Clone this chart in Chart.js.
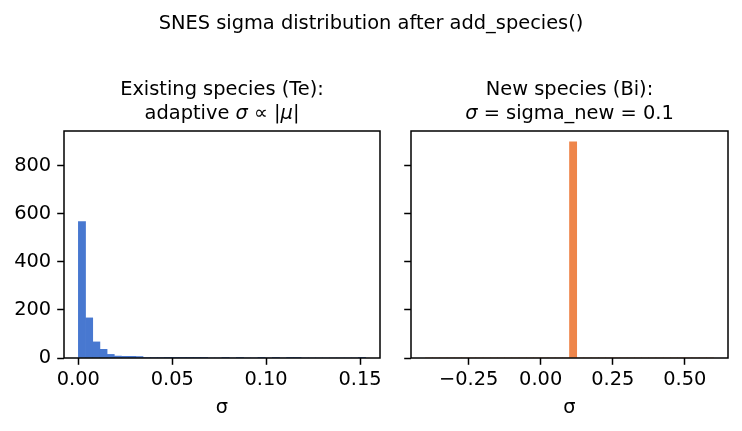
<!DOCTYPE html>
<html>
<head>
<meta charset="utf-8">
<script src="https://cdn.jsdelivr.net/npm/chart.js@4.4.0/dist/chart.umd.min.js"></script>
<style>
  body { margin: 0; background: #fff; }
  #wrap { position: relative; width: 742px; height: 431px; font-family: 'DejaVu Sans', sans-serif; color: #000; }
  canvas { position: absolute; top: 0; }
  .txt { position: absolute; font-size: 19.4px; line-height: 24px; text-align: center; white-space: nowrap; }
  .txt i { font-style: italic; }
</style>
</head>
<body>
<div id="wrap">
  <canvas id="leftChart" width="395" height="431" style="left:0;width:395px;height:431px"></canvas>
  <canvas id="rightChart" width="347" height="431" style="left:395px;width:347px;height:431px"></canvas>
  <div class="txt" style="left:0;width:742px;top:11px">SNES sigma distribution after add_species()</div>
  <div class="txt" style="left:64px;width:316px;top:77px">Existing species (Te):<br>adaptive <i>σ</i> ∝ |<i>μ</i>|</div>
  <div class="txt" style="left:411px;width:317px;top:77px">New species (Bi):<br><i>σ</i> = sigma_new = 0.1</div>
</div>
<script>
// histogram bins (40 bins each)
const leftBinStart = 0;
const leftBinWidth = 0.003825;
const leftCounts = [568, 167, 67, 36, 15, 8, 7, 7, 6, 2,
                    2, 2, 1, 1, 1, 1, 1, 1, 0, 0,
                    1, 0, 1, 0, 0, 1, 0, 1, 0, 1,
                    1, 0, 0, 0, 0, 0, 0, 0, 0, 1];
const rightBinStart = -0.4;
const rightBinWidth = 0.025;
const rightCounts = [0, 0, 0, 0, 0, 0, 0, 0, 0, 0,
                     0, 0, 0, 0, 0, 0, 0, 0, 0, 0,
                     900, 0, 0, 0, 0, 0, 0, 0, 0, 0,
                     0, 0, 0, 0, 0, 0, 0, 0, 0, 0];
const leftXTicks = [0, 0.05, 0.10, 0.15];
const rightXTicks = [-0.25, 0, 0.25, 0.5];
const yTicks = [0, 200, 400, 600, 800];

Chart.defaults.font.family = "'DejaVu Sans', sans-serif";
Chart.defaults.font.size = 19.4;
Chart.defaults.color = '#000';

const spines = {
    id: 'spines',
    afterDatasetsDraw(chart) {
        const a = chart.chartArea;
        const c = chart.ctx;
        c.save();
        c.strokeStyle = '#000';
        c.lineWidth = 1.5;
        c.strokeRect(a.left, a.top, a.right - a.left, a.bottom - a.top);
        c.restore();
    }
};

function toPoints(start, width, counts) {
    return counts.map((n, i) => ({ x: start + (i + 0.5) * width, y: n }));
}

function makeChart(id, points, color, xMin, xMax, xTicks, yWidth, padRight, showY) {
    return new Chart(document.getElementById(id), {
        type: 'bar',
        data: {
            datasets: [{
                data: points,
                backgroundColor: color,
                borderWidth: 0,
                barPercentage: 1,
                categoryPercentage: 1,
            }],
        },
        options: {
            responsive: false,
            animation: false,
            devicePixelRatio: 1,
            layout: { padding: { top: 131, right: padRight, left: 0, bottom: 0 } },
            plugins: { legend: { display: false }, tooltip: { enabled: false } },
            scales: {
                x: {
                    type: 'linear',
                    min: xMin,
                    max: xMax,
                    offset: false,
                    afterBuildTicks: (s) => { s.ticks = xTicks.map(v => ({ value: v })); },
                    afterFit: (s) => { s.height = 73; },
                    ticks: {
                        padding: 4,
                        maxRotation: 0,
                        autoSkip: false,
                        callback: (v) => v.toFixed(2).replace('-', '\u2212'),
                    },
                    grid: { offset: false, drawOnChartArea: false, drawTicks: true, tickLength: 6.8, tickWidth: 1.5, tickColor: '#000' },
                    border: { display: false },
                    title: { display: true, text: 'σ', padding: { top: 0, bottom: 11 } },
                },
                y: {
                    min: 0,
                    max: 945,
                    afterBuildTicks: (s) => { s.ticks = yTicks.map(v => ({ value: v })); },
                    afterFit: (s) => { s.width = yWidth; },
                    ticks: { display: showY, padding: 6 },
                    grid: { offset: false, drawOnChartArea: false, drawTicks: true, tickLength: 6.8, tickWidth: 1.5, tickColor: '#000' },
                    border: { display: false },
                },
            },
        },
        plugins: [spines],
    });
}

makeChart('leftChart', toPoints(leftBinStart, leftBinWidth, leftCounts), '#4878d0',
          -0.00765, 0.16065, leftXTicks, 64, 15, true);
makeChart('rightChart', toPoints(rightBinStart, rightBinWidth, rightCounts), '#ee854a',
          -0.45, 0.65, rightXTicks, 16, 14, false);
</script>
</body>
</html>
